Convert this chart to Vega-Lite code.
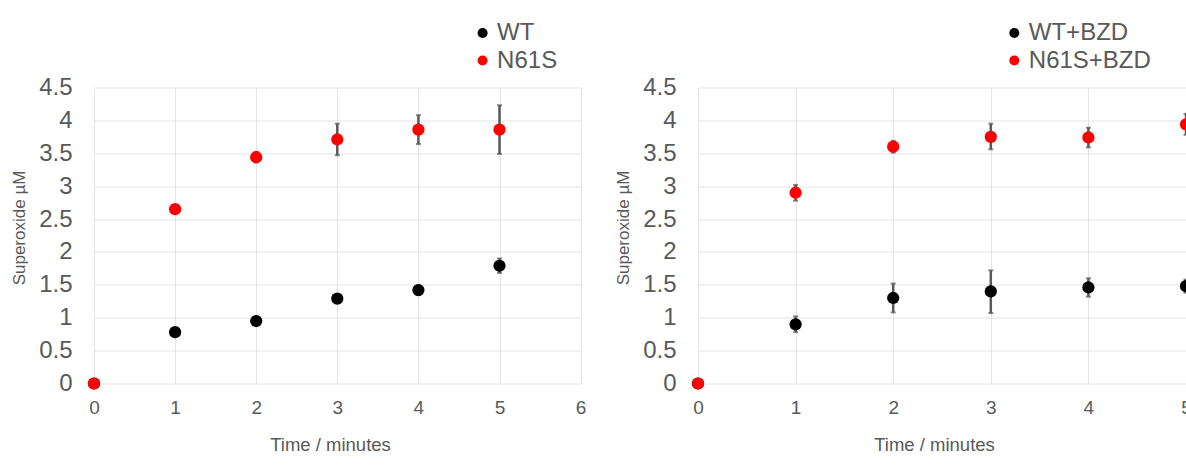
{
  "$schema": "https://vega.github.io/schema/vega-lite/v6.json",
  "padding": {"left": 10, "top": 20.5, "right": 0, "bottom": 0},
  "background": "white",
  "spacing": 117,
  "bounds": "flush",
  "resolve": {"scale": {"color": "independent", "x": "independent"}, "legend": {"color": "independent"}},
  "config": {
    "font": "Liberation Sans",
    "view": {"stroke": null},
    "axis": {
      "labelColor": "#595959",
      "titleColor": "#595959",
      "titleFontWeight": "normal",
      "labelFont": "Liberation Sans",
      "titleFont": "Liberation Sans",
      "labelFlush": false,
      "domain": false,
      "ticks": false,
      "tickSize": 0,
      "grid": true,
      "gridColor": "#e4e4e4",
      "gridWidth": 1
    }
  },
  "datasets": {
    "left": [
      {"t": 0, "v": 0, "lo": 0, "hi": 0, "s": "WT"},
      {"t": 1, "v": 0.78, "lo": 0.75, "hi": 0.81, "s": "WT"},
      {"t": 2, "v": 0.95, "lo": 0.9, "hi": 1.0, "s": "WT"},
      {"t": 3, "v": 1.29, "lo": 1.24, "hi": 1.34, "s": "WT"},
      {"t": 4, "v": 1.42, "lo": 1.35, "hi": 1.49, "s": "WT"},
      {"t": 5, "v": 1.79, "lo": 1.68, "hi": 1.9, "s": "WT"},
      {"t": 0, "v": 0, "lo": 0, "hi": 0, "s": "N61S"},
      {"t": 1, "v": 2.65, "lo": 2.62, "hi": 2.68, "s": "N61S"},
      {"t": 2, "v": 3.44, "lo": 3.36, "hi": 3.52, "s": "N61S"},
      {"t": 3, "v": 3.71, "lo": 3.47, "hi": 3.95, "s": "N61S"},
      {"t": 4, "v": 3.86, "lo": 3.64, "hi": 4.08, "s": "N61S"},
      {"t": 5, "v": 3.86, "lo": 3.49, "hi": 4.23, "s": "N61S"}
    ],
    "right": [
      {"t": 0, "v": 0, "lo": 0, "hi": 0, "s": "WT+BZD"},
      {"t": 1, "v": 0.9, "lo": 0.78, "hi": 1.02, "s": "WT+BZD"},
      {"t": 2, "v": 1.3, "lo": 1.08, "hi": 1.52, "s": "WT+BZD"},
      {"t": 3, "v": 1.4, "lo": 1.07, "hi": 1.72, "s": "WT+BZD"},
      {"t": 4, "v": 1.46, "lo": 1.32, "hi": 1.6, "s": "WT+BZD"},
      {"t": 5, "v": 1.48, "lo": 1.38, "hi": 1.58, "s": "WT+BZD"},
      {"t": 0, "v": 0, "lo": 0, "hi": 0, "s": "N61S+BZD"},
      {"t": 1, "v": 2.9, "lo": 2.78, "hi": 3.02, "s": "N61S+BZD"},
      {"t": 2, "v": 3.6, "lo": 3.51, "hi": 3.69, "s": "N61S+BZD"},
      {"t": 3, "v": 3.75, "lo": 3.56, "hi": 3.95, "s": "N61S+BZD"},
      {"t": 4, "v": 3.74, "lo": 3.59, "hi": 3.89, "s": "N61S+BZD"},
      {"t": 5, "v": 3.94, "lo": 3.78, "hi": 4.1, "s": "N61S+BZD"}
    ]
  },
  "hconcat": [
    {
      "width": 486.6,
      "height": 296,
      "data": {"name": "left"},
      "layer": [
        {
          "mark": {"type": "errorbar", "color": "#595959", "thickness": 2.5, "ticks": {"size": 5, "thickness": 2, "color": "#595959"}},
          "encoding": {
            "x": {"field": "t", "type": "quantitative", "scale": {"domain": [0, 6], "nice": false}, "title": "Time / minutes",
              "axis": {"values": [0, 1, 2, 3, 4, 5, 6], "format": "~g", "labelFontSize": 19, "labelPadding": 15, "titleFontSize": 18.5, "titleX": 236, "titleY": 66.7, "titleBaseline": "alphabetic", "titleAlign": "center", "titleAnchor": null}},
            "y": {"field": "lo", "type": "quantitative", "scale": {"domain": [0, 4.5], "nice": false}, "title": "Superoxide µM",
              "axis": {"values": [0, 0.5, 1, 1.5, 2, 2.5, 3, 3.5, 4, 4.5], "format": "~g", "labelFontSize": 24, "labelPadding": 22, "titleFontSize": 17, "titleX": -74.4, "titleY": 140, "titleBaseline": "middle", "titleAlign": "center", "titleAnchor": null}},
            "y2": {"field": "hi"}
          }
        },
        {
          "mark": {"type": "point", "filled": true, "opacity": 1, "size": 150, "shape": "circle"},
          "encoding": {
            "x": {"field": "t", "type": "quantitative", "scale": {"domain": [0, 6], "nice": false}, "title": "Time / minutes",
              "axis": {"values": [0, 1, 2, 3, 4, 5, 6], "format": "~g", "labelFontSize": 19, "labelPadding": 15, "titleFontSize": 18.5, "titleX": 236, "titleY": 66.7, "titleBaseline": "alphabetic", "titleAlign": "center", "titleAnchor": null}},
            "y": {"field": "v", "type": "quantitative", "scale": {"domain": [0, 4.5], "nice": false}, "title": "Superoxide µM",
              "axis": {"values": [0, 0.5, 1, 1.5, 2, 2.5, 3, 3.5, 4, 4.5], "format": "~g", "labelFontSize": 24, "labelPadding": 22, "titleFontSize": 17, "titleX": -74.4, "titleY": 140, "titleBaseline": "middle", "titleAlign": "center", "titleAnchor": null}},
            "color": {"field": "s", "type": "nominal", "sort": null,
              "scale": {"domain": ["WT", "N61S"], "range": ["#000000", "#ff0000"]},
              "legend": {"orient": "none", "legendX": 376.6, "legendY": -66.5, "title": null, "labelFontSize": 24, "labelColor": "#595959", "labelFont": "Liberation Sans", "symbolType": "circle", "symbolSize": 100, "symbolStrokeWidth": 0, "padding": 0, "rowPadding": 3.5, "labelOffset": 2.5}}
          }
        }
      ]
    },
    {
      "width": 488,
      "height": 296,
      "data": {"name": "right"},
      "layer": [
        {
          "mark": {"type": "errorbar", "color": "#595959", "thickness": 2.5, "ticks": {"size": 5, "thickness": 2, "color": "#595959"}},
          "encoding": {
            "x": {"field": "t", "type": "quantitative", "scale": {"domain": [0, 5], "nice": false}, "title": "Time / minutes",
              "axis": {"values": [0, 1, 2, 3, 4, 5], "format": "~g", "labelFontSize": 19, "labelPadding": 15, "titleFontSize": 18.5, "titleX": 236, "titleY": 66.7, "titleBaseline": "alphabetic", "titleAlign": "center", "titleAnchor": null}},
            "y": {"field": "lo", "type": "quantitative", "scale": {"domain": [0, 4.5], "nice": false}, "title": "Superoxide µM",
              "axis": {"values": [0, 0.5, 1, 1.5, 2, 2.5, 3, 3.5, 4, 4.5], "format": "~g", "labelFontSize": 24, "labelPadding": 22, "titleFontSize": 17, "titleX": -74.4, "titleY": 140, "titleBaseline": "middle", "titleAlign": "center", "titleAnchor": null}},
            "y2": {"field": "hi"}
          }
        },
        {
          "mark": {"type": "point", "filled": true, "opacity": 1, "size": 150, "shape": "circle"},
          "encoding": {
            "x": {"field": "t", "type": "quantitative", "scale": {"domain": [0, 5], "nice": false}, "title": "Time / minutes",
              "axis": {"values": [0, 1, 2, 3, 4, 5], "format": "~g", "labelFontSize": 19, "labelPadding": 15, "titleFontSize": 18.5, "titleX": 236, "titleY": 66.7, "titleBaseline": "alphabetic", "titleAlign": "center", "titleAnchor": null}},
            "y": {"field": "v", "type": "quantitative", "scale": {"domain": [0, 4.5], "nice": false}, "title": "Superoxide µM",
              "axis": {"values": [0, 0.5, 1, 1.5, 2, 2.5, 3, 3.5, 4, 4.5], "format": "~g", "labelFontSize": 24, "labelPadding": 22, "titleFontSize": 17, "titleX": -74.4, "titleY": 140, "titleBaseline": "middle", "titleAlign": "center", "titleAnchor": null}},
            "color": {"field": "s", "type": "nominal", "sort": null,
              "scale": {"domain": ["WT+BZD", "N61S+BZD"], "range": ["#000000", "#ff0000"]},
              "legend": {"orient": "none", "legendX": 304.3, "legendY": -66.5, "title": null, "labelFontSize": 24, "labelColor": "#595959", "labelFont": "Liberation Sans", "symbolType": "circle", "symbolSize": 100, "symbolStrokeWidth": 0, "padding": 0, "rowPadding": 3.5, "labelOffset": 2.5}}
          }
        }
      ]
    }
  ]
}
